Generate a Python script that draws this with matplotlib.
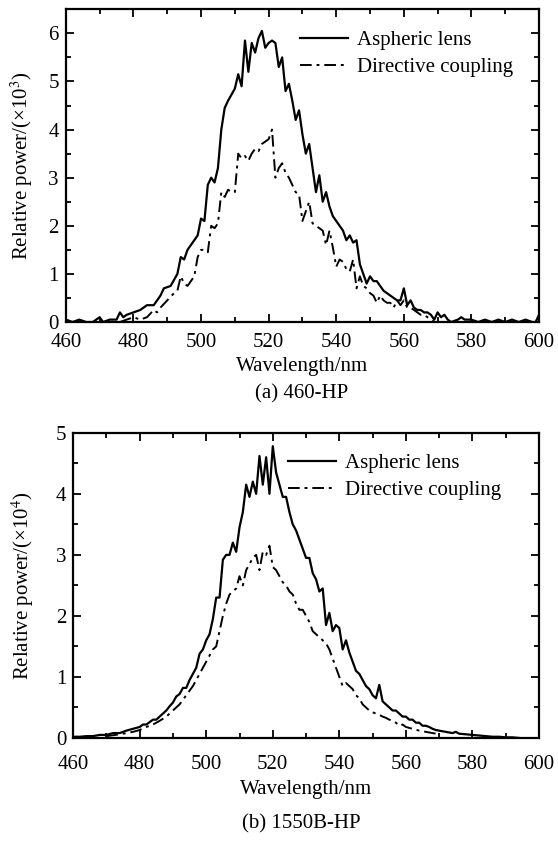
import numpy as np
import matplotlib
matplotlib.use('Agg')
import matplotlib.pyplot as plt
from matplotlib.ticker import MultipleLocator

plt.rcParams['font.family'] = ['Liberation Serif', 'DejaVu Serif']
plt.rcParams['mathtext.fontset'] = 'stix'

# (a) 460-HP, relative power x10^3
wl_a_asp = [460, 462, 464, 466, 468, 470, 471, 473, 475, 476, 477, 478, 480, 482, 484, 486, 488, 489,
            491, 493, 494, 495, 496, 497, 499, 500, 501, 502, 503, 504, 505, 506, 507, 508, 510, 511,
            512, 513, 514, 515, 516, 517, 518, 519, 520, 521, 522, 523, 524, 525, 526, 527, 528, 529,
            530, 531, 532, 533, 534, 535, 536, 537, 538, 539, 540, 541, 542, 543, 544, 545, 546, 547,
            548, 549, 550, 551, 552, 553, 554, 555, 556, 557, 558, 559, 560, 561, 562, 563, 564, 565,
            566, 567, 568, 569, 570, 571, 572, 573, 574, 576, 577, 578, 580, 582, 584, 586, 588, 590,
            592, 594, 596, 598, 599, 600]
asp_a = [0.05, 0.0, 0.05, 0.0, 0.0, 0.1, 0.0, 0.05, 0.05, 0.2, 0.1, 0.15, 0.2, 0.25, 0.35, 0.35, 0.55, 0.7,
         0.75, 1.0, 1.35, 1.3, 1.5, 1.6, 1.8, 2.15, 2.1, 2.85, 3.0, 2.9, 3.2, 4.0, 4.45, 4.6, 4.85, 5.15,
         4.9, 5.85, 5.2, 5.8, 5.6, 5.9, 6.05, 5.7, 5.8, 5.85, 5.8, 5.3, 5.5, 4.8, 4.95, 4.6, 4.2, 4.4,
         3.9, 3.5, 3.7, 3.2, 2.7, 3.05, 2.5, 2.7, 2.4, 2.2, 2.1, 2.0, 1.9, 1.7, 1.8, 1.65, 1.7, 1.2,
         1.0, 0.8, 0.95, 0.85, 0.85, 0.75, 0.65, 0.6, 0.55, 0.5, 0.45, 0.45, 0.7, 0.35, 0.45, 0.3, 0.25, 0.25,
         0.2, 0.2, 0.15, 0.05, 0.2, 0.1, 0.15, 0.05, 0.0, 0.05, 0.1, 0.05, 0.05, 0.0, 0.05, 0.0, 0.05, 0.0,
         0.05, 0.0, 0.05, 0.0, 0.0, 0.15]

wl_a_dir = [476, 478, 480, 482, 484, 486, 487, 488, 490, 492, 493, 494, 495, 496, 497, 498, 499, 500,
            501, 502, 503, 504, 505, 506, 507, 508, 509, 510, 511, 512, 513, 514, 515, 516, 517, 518,
            519, 520, 521, 522, 523, 524, 525, 526, 527, 528, 529, 530, 531, 532, 533, 534, 535, 536,
            537, 538, 539, 540, 541, 542, 543, 544, 545, 546, 547, 548, 549, 550, 551, 552, 553, 554,
            555, 556, 557, 558, 559, 560, 561, 562, 563, 564, 565, 566, 567, 568, 569, 570]
dir_a = [0.0, 0.05, 0.1, 0.05, 0.1, 0.25, 0.2, 0.3, 0.45, 0.6, 0.65, 0.95, 0.8, 0.75, 0.85, 0.95, 1.35, 1.5,
         1.5, 1.45, 2.0, 1.95, 2.05, 2.7, 2.6, 2.75, 2.7, 2.7, 3.5, 3.4, 3.45, 3.35, 3.5, 3.6, 3.55, 3.7,
         3.75, 3.8, 4.0, 3.0, 3.2, 3.3, 3.1, 3.0, 2.85, 2.7, 2.65, 2.1, 2.3, 2.5, 2.05, 2.0, 1.95, 1.9,
         1.6, 1.9, 1.55, 1.15, 1.3, 1.25, 1.1, 1.05, 1.3, 0.7, 0.95, 0.75, 0.7, 0.6, 0.55, 0.4, 0.55, 0.45,
         0.4, 0.4, 0.3, 0.45, 0.35, 0.45, 0.3, 0.3, 0.25, 0.2, 0.15, 0.15, 0.1, 0.05, 0.0, 0.0]

# (b) 1550B-HP, relative power x10^4
wl_b_asp = [460, 462, 464, 466, 468, 470, 472, 474, 476, 478, 480, 481, 482, 484, 485, 486, 487, 488,
            489, 490, 491, 492, 493, 494, 495, 496, 497, 498, 499, 500, 501, 502, 503, 504, 505, 506,
            507, 508, 509, 510, 511, 512, 513, 514, 515, 516, 517, 518, 519, 520, 521, 522, 523, 524,
            525, 526, 527, 528, 529, 530, 531, 532, 533, 534, 535, 536, 537, 538, 539, 540, 541, 542,
            543, 544, 545, 546, 547, 548, 549, 550, 551, 552, 553, 554, 555, 556, 557, 558, 559, 560,
            561, 562, 563, 564, 565, 566, 567, 568, 569, 570, 572, 574, 575, 576, 578, 580, 582, 584,
            586, 588, 590, 592, 594]
asp_b = [0.02, 0.02, 0.03, 0.03, 0.05, 0.05, 0.08, 0.08, 0.12, 0.15, 0.18, 0.22, 0.22, 0.3, 0.3, 0.35, 0.4, 0.45,
         0.52, 0.58, 0.68, 0.72, 0.82, 0.82, 0.95, 1.05, 1.15, 1.38, 1.45, 1.6, 1.7, 1.95, 2.3, 2.3, 2.92, 3.0,
         3.0, 3.2, 3.05, 3.45, 3.7, 4.15, 3.95, 4.2, 4.0, 4.62, 4.15, 4.6, 4.0, 4.78, 4.35, 4.15, 3.95, 3.95,
         3.7, 3.5, 3.4, 3.25, 3.1, 2.95, 2.95, 2.7, 2.6, 2.4, 2.45, 1.85, 2.05, 1.75, 1.85, 1.8, 1.45, 1.6,
         1.4, 1.25, 1.1, 1.05, 0.95, 0.85, 0.8, 0.7, 0.65, 0.87, 0.6, 0.55, 0.5, 0.45, 0.45, 0.4, 0.35, 0.35,
         0.3, 0.3, 0.25, 0.25, 0.2, 0.2, 0.18, 0.15, 0.13, 0.12, 0.1, 0.08, 0.1, 0.07, 0.06, 0.05, 0.04, 0.03,
         0.02, 0.02, 0.01, 0.01, 0.0]

wl_b_dir = [470, 474, 478, 480, 482, 484, 486, 488, 490, 492, 494, 496, 498, 500, 502, 503, 504, 505,
            506, 507, 508, 509, 510, 511, 512, 513, 514, 515, 516, 517, 518, 519, 520, 521, 522, 523,
            524, 525, 526, 527, 528, 529, 530, 531, 532, 533, 534, 535, 536, 537, 538, 539, 540, 541,
            542, 543, 544, 545, 546, 547, 548, 549, 550, 551, 552, 553, 554, 555, 556, 557, 558, 559,
            560, 562, 564, 566, 568, 570]
dir_b = [0.03, 0.06, 0.1, 0.13, 0.18, 0.22, 0.28, 0.35, 0.45, 0.55, 0.7, 0.85, 1.05, 1.25, 1.45, 1.5, 1.75, 2.0,
         2.2, 2.35, 2.4, 2.45, 2.65, 2.5, 2.75, 2.85, 2.95, 3.0, 2.75, 3.05, 3.0, 3.15, 2.8, 2.75, 2.65, 2.55,
         2.5, 2.4, 2.35, 2.2, 2.1, 2.1, 2.0, 1.9, 1.75, 1.7, 1.65, 1.6, 1.55, 1.45, 1.3, 1.15, 1.0, 0.85,
         0.9, 0.85, 0.8, 0.7, 0.65, 0.55, 0.5, 0.45, 0.42, 0.4, 0.38, 0.35, 0.33, 0.3, 0.28, 0.25, 0.2, 0.22,
         0.18, 0.15, 0.12, 0.1, 0.08, 0.06]

fig = plt.figure(figsize=(5.58, 8.43), dpi=100)
ax1 = fig.add_axes([0.118, 0.618, 0.848, 0.371])
ax2 = fig.add_axes([0.131, 0.1246, 0.835, 0.362])

dashdot = (0, (6, 2.5, 1.5, 2.5))
FS = 15


def style(ax, ymax, ylabel, xpad, ylpad, xlab_y, leg_xy):
    ax.set_xlim(460, 600)
    ax.set_ylim(0, ymax)
    ax.xaxis.set_major_locator(MultipleLocator(20))
    ax.xaxis.set_minor_locator(MultipleLocator(10))
    ax.yaxis.set_major_locator(MultipleLocator(1))
    ax.yaxis.set_minor_locator(MultipleLocator(0.5))
    ax.tick_params(which='both', direction='in', top=True, right=True, width=1.3, labelsize=FS)
    ax.tick_params(which='major', length=6)
    ax.tick_params(which='minor', length=3.5)
    ax.tick_params(axis='x', pad=xpad)
    ax.tick_params(axis='y', pad=5)
    for s in ax.spines.values():
        s.set_linewidth(1.6)
    ax.set_ylabel(ylabel, fontsize=FS, labelpad=ylpad)
    ax.set_xlabel('Wavelength/nm', fontsize=FS)
    ax.xaxis.set_label_coords(0.5, xlab_y)
    ax.legend(loc='upper left', bbox_to_anchor=leg_xy, frameon=False, fontsize=FS,
              handlelength=2.3, handletextpad=0.45, borderaxespad=0, borderpad=0,
              labelspacing=0.35)


ax1.plot(wl_a_asp, asp_a, color='black', lw=1.6, label='Aspheric lens')
ax1.plot(wl_a_dir, dir_a, color='black', lw=1.4, linestyle=dashdot, label='Directive coupling')
style(ax1, 6.5, 'Relative power/(×10$^{3}$)', 8, 10, -0.113, (0.495, 0.932))

ax2.plot(wl_b_asp, asp_b, color='black', lw=1.6, label='Aspheric lens')
ax2.plot(wl_b_dir, dir_b, color='black', lw=1.4, linestyle=dashdot, label='Directive coupling')
style(ax2, 5, 'Relative power/(×10$^{4}$)', 12, 14, -0.137, (0.461, 0.932))

fig.text(0.54, 1 - 394 / 843, '(a) 460-HP', fontsize=FS, ha='center', va='center')
fig.text(0.54, 1 - 824 / 843, '(b) 1550B-HP', fontsize=FS, ha='center', va='center')

fig.savefig('out.png', dpi=100)
